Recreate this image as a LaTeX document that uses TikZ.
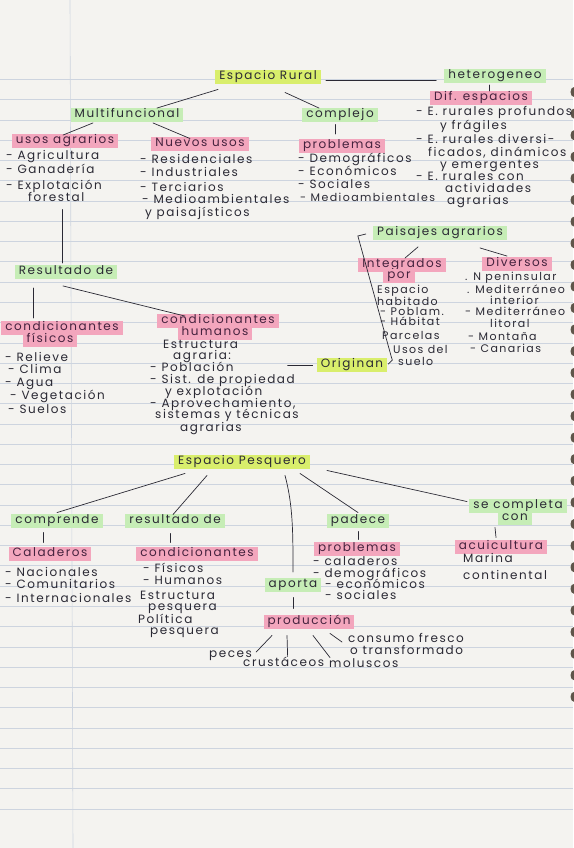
\documentclass[tikz,border=0pt]{standalone}
\usepackage{fontspec}
\newfontfamily\handfont[LetterSpace=13]{Poppins}
\usetikzlibrary{calc,positioning}
\definecolor{paper}{HTML}{F4F3F0}
\definecolor{rule}{HTML}{CDD4DF}
\definecolor{ink}{HTML}{2A2934}
\definecolor{plum}{HTML}{45223E}
\definecolor{lime}{HTML}{D9EE6C}
\definecolor{mint}{HTML}{C6EDB6}
\definecolor{rose}{HTML}{F3A6BD}
\definecolor{ring}{HTML}{5F554A}
\tikzset{
 word/.style={text=ink,inner sep=0pt,anchor=west,text height=8pt,text depth=2.5pt},
 wordsm/.style={word,font=\handfont\fontsize{11}{12}\selectfont,text height=7pt,text depth=2pt},
 hbase/.style={inner xsep=4pt,inner ysep=1.5pt,text height=8pt,text depth=2.5pt},
 hlime/.style={hbase,fill=lime,text=ink},
 hmint/.style={hbase,fill=mint,text=ink},
 hrose/.style={hbase,fill=rose,text=plum},
 link/.style={draw=ink,line width=0.7pt,line cap=round},
}

\begin{document}
\begin{tikzpicture}[x=1pt,y=-1pt,font=\handfont\fontsize{12}{13}\selectfont]
\useasboundingbox (0,0) rectangle (573,848);
% ruled paper
\fill[paper] (0,0) rectangle (573,848);
\foreach \k in {0,...,36} \draw[rule,line width=0.6pt] (0,79.3+20.27*\k) -- (573,79.3+20.27*\k);
\draw[rule,line width=0.6pt] (70,0) -- (73,848);
\foreach \k in {0,...,28} \fill[ring] (574,92+21.6*\k) ellipse (3.5 and 5);

% espacio rural
\node[hlime] (rural) at (268,77) {Espacio Rural};
\node[hmint] (hetero) at (495,76) {heterogeneo};
\node[hrose] (difesp) at (481,98) {Dif. espacios};
\node[hmint] (multi) at (127,115) {Multifuncional};
\node[hmint] (compl) at (340,115) {complejo};
\node[hrose] (usosag) at (65,141) {usos agrarios};
\node[hrose] (nuevos) at (200,144) {Nuevos usos};
\node[hrose] (probl) at (342,146) {problemas};
\node[hmint] (result) at (66,272) {Resultado de};
\node[hrose] (fisA) at (62,328) {condicionantes};
\node[hrose] (fisB) at (50,340) {físicos};
\node[hrose] (humA) at (218,321) {condicionantes};
\node[hrose] (humB) at (215,333) {humanos};
\node[hmint] (paisaj) at (440,233) {Paisajes agrarios};
\node[hrose] (integA) at (402,265) {Integrados};
\node[hrose] (integB) at (399,276) {por};
\node[hrose] (divers) at (517,264) {Diversos};
\node[hlime] (origin) at (352,365) {Originan};

% espacio pesquero
\node[hlime] (pesq) at (242,462) {Espacio Pesquero};
\node[hmint] (compr) at (57,521) {comprende};
\node[hmint] (resul2) at (175,521) {resultado de};
\node[hmint] (padece) at (358,521) {padece};
\node[hmint] (secompA) at (518,506) {se completa};
\node[hmint] (secompB) at (515,518) {con};
\node[hrose] (calad) at (50,554) {Caladeros};
\node[hrose] (condic) at (197,554) {condicionantes};
\node[hrose] (probl2) at (357,549) {problemas};
\node[hrose] (acui) at (501,547) {acuicultura};
\node[hmint] (aporta) at (293,585) {aporta};
\node[hrose] (produc) at (309,622) {producción};

% plain lines of text
\foreach \nm/\xx/\yy/\t in {
 d1/416/113/- E. rurales profundos, d2/440/127/y frágiles, d3/416/141/- E. rurales diversi-,
 d4/428/154/{ficados, dinámicos}, d5/440/166/y emergentes, d6/416/178/- E. rurales con,
 d7/445/190/actividades, d8/447/202/agrarias,
 u1/6/157/- Agricultura, u2/6/171/- Ganadería, u3/6/187/- Explotación, u4/28/199/forestal,
 n1/140/161/- Residenciales, n2/140/174/- Industriales, n3/140/189/- Terciarios,
 n4/142/201/- Medioambientales, n5/145/214/y paisajísticos,
 p1/298/160/- Demográficos, p2/298/173/- Económicos, p3/298/186/- Sociales,
 f1/5/359/- Relieve, f2/8/371/- Clima, f3/5/384/- Agua, f4/10/397/- Vegetación, f5/8/411/- Suelos,
 h1/163/346/Estructura, h2/173/357/agraria:, h3/150/369/- Población, h4/150/381/- Sist. de propiedad,
 h5/165/393/y explotación, h6/150/405/{- Aprovechamiento,}, h7/155/416/sistemas y técnicas, h8/180/429/agrarias,
 c1/5/574/- Nacionales, c2/5/586/- Comunitarios, c3/5/600/- Internacionales,
 k1/143/570/- Físicos, k2/143/582/- Humanos, k3/140/597/Estructura, k4/148/608/pesquera,
 k5/138/621/Política, k6/150/632/pesquera,
 q1/313/563/- caladeros, q2/313/575/- demográficos, q3/325/586/- económicos, q4/325/597/- sociales,
 a1/463/560/Marina, a2/463/577/continental,
 r1/209/655/peces, r2/243/664/crustáceos, r3/329/665/moluscos, r4/348/640/consumo fresco, r5/350/652/o transformado}
 \node[word] (\nm) at (\xx,\yy) {\t};
% smaller writing
\foreach \nm/\xx/\yy/\t in {
 p4/300/199/- Medioambientales,
 i1/377/291/Espacio, i2/377/303/habitado, i3/380/313/- Poblam., i4/380/323/- Hábitat,
 i5/382/337/Parcelas, i6/393/351/Usos del, i7/398/363/suelo,
 v1/465/278/. N peninsular, v2/467/291/. Mediterráneo, v3/490/302/interior, v4/465/313/- Mediterráneo,
 v5/490/325/litoral, v6/468/338/- Montaña, v7/470/350/- Canarias}
 \node[wordsm] (\nm) at (\xx,\yy) {\t};

% connectors, top half
\draw[link] ($(rural.east)+(5,3)$) -- ($(hetero.west)+(-8,4)$);
\draw[link] ($(hetero.south)+(-6,2)$) -- ($(difesp.north)+(8,0)$);
\draw[link] ($(rural.south)+(-50,5.5)$) -- ($(multi.north)+(30,0)$);
\draw[link] ($(rural.south)+(17,8.5)$) -- ($(compl.north)+(-21,0)$);
\draw[link] ($(compl.south)+(-5,2.5)$) -- ($(probl.north)+(-7,-5)$);
\draw[link] ($(multi.south)+(-34,1)$) -- ($(usosag.north)+(-2,1)$);
\draw[link] ($(multi.south)+(26,1)$) -- ($(nuevos.north)+(-10,1.5)$);
\draw[link] ($(u4.south west)+(34,5)$) -- ($(result.north)+(-4,-2)$);
\draw[link] ($(result.south)+(-33,9)$) -- ($(fisA.north)+(-29,-3)$);
\draw[link] ($(result.south)+(-3,7)$) -- ($(humA.north)+(-33,2)$);
\draw[link] ($(paisaj.south)+(-22,7)$) -- ($(integA.north)+(3,0)$);
\draw[link] ($(paisaj.south)+(40,8)$) -- ($(divers.north)+(-10,-1)$);
\draw[link] ($(paisaj.west)+(-7,1)$) -- ($(paisaj.west)+(-15,3)$) -- ($(origin.east)+(4,-8)$)
  -- ($(origin.east)+(5,-5)$) -- ($(origin.east)+(1,-1)$);
\draw[link] ($(origin.west)+(-29,0)$) -- ($(origin.west)+(-4,0)$);

% connectors, bottom half
\draw[link] ($(pesq.south)+(-57,4.5)$) -- ($(compr.north)+(0,-1.5)$);
\draw[link] ($(pesq.south)+(-35,6.5)$) -- ($(resul2.north)+(-2,0.5)$);
\draw[link] ($(pesq.south)+(43,6.5)$) .. controls +(8,30) and +(0,-40) .. ($(aporta.north)+(0,-6)$);
\draw[link] ($(pesq.south)+(58,4.5)$) -- ($(padece.north)+(0,-1.5)$);
\draw[link] ($(pesq.south)+(85,1.5)$) -- ($(secompA.north)+(-51,2.5)$);
\draw[link] ($(compr.south)+(-14,4.5)$) -- ($(calad.north)+(-7,-4.5)$);
\draw[link] ($(resul2.south)+(-5,5.5)$) -- ($(condic.north)+(-27,-4.5)$);
\draw[link] ($(padece.south)+(0,3.5)$) -- ($(probl2.north)+(1,-2.5)$);
\draw[link] ($(secompB.south)+(-20,2.5)$) -- ($(acui.north)+(-5,-2.5)$);
\draw[link] ($(aporta.south)+(0,5.5)$) -- ($(produc.north)+(-16,-6.5)$);
\draw[link] ($(produc.south)+(-37,6.5)$) -- ($(r1.east)+(4,-3)$);
\draw[link] ($(produc.south)+(-22,6.5)$) -- ($(r2.north)+(4,-2)$);
\draw[link] ($(produc.south)+(4,6.5)$) -- ($(r3.north west)+(1,-2)$);
\draw[link] ($(produc.south)+(21,4.5)$) -- ($(r4.west)+(-6,2)$);
\end{tikzpicture}
\end{document}
